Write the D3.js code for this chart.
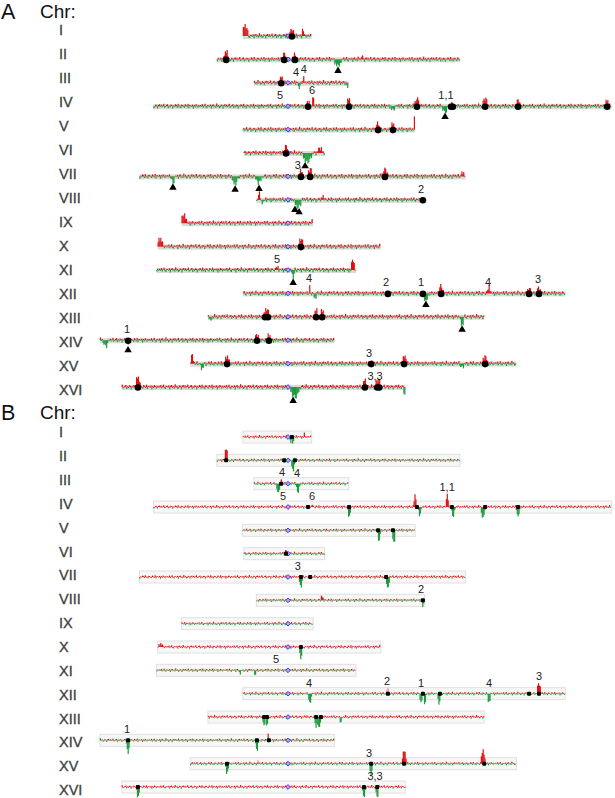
<!DOCTYPE html>
<html><head><meta charset="utf-8">
<script src="https://cdn.jsdelivr.net/npm/d3@7"></script>
<style>body{margin:0;background:#fff;} svg{display:block;font-family:"Liberation Sans",Arial,Helvetica,sans-serif;} text{-webkit-font-smoothing:antialiased;}</style>
</head><body><svg id="c" width="615" height="798"></svg>
<script>
// ---------- data ----------
const chrNames = ["I","II","III","IV","V","VI","VII","VIII","IX","X","XI","XII","XIII","XIV","XV","XVI"];
const chrLengths = [230, 813, 317, 1532, 577, 270, 1091, 563, 440, 746, 667, 1078, 924, 784, 1091, 948]; // kb
const cenPositions = [151, 238, 114, 450, 152, 148, 497, 106, 356, 436, 440, 151, 268, 629, 327, 556]; // kb

// small hand-read background texture of the ratio track (log ratio units)
const baselineTexture = [0.3,-0.2,0.5,-0.4,0.2,0.6,-0.3,-0.5,0.3,0.2,-0.2,0.4,-0.6,0.3,0.5,-0.3,0.2,-0.4,0.7,-0.2,0.3,-0.5,-0.3,0.4,0.2,-0.6,0.3,0.5,-0.2,0.4,-0.3,0.2,0.6,-0.4,-0.2,0.3,0.5,-0.5,0.2,-0.3,0.4,0.3,-0.6,0.2,-0.2,0.5,0.3,-0.4,0.6,-0.3,0.2,-0.5,0.4,0.3,-0.2,-0.4,0.5,0.2,-0.3,0.6,-0.5,0.3,0.2,-0.2,0.4,-0.6,0.3,-0.3,0.5,0.2,-0.4,0.3,-0.2];

// peaks: [chromosome index, position kb, log ratio, half width kb]
const peaksA = [
 [0,7,2.5,12],[0,164,1.8,8],[0,201,2.0,3],
 [1,31,2.0,9],[1,225,1.5,7],[1,261,1.5,7],[1,405,-1.6,14],[1,485,1.0,4],
 [2,91,1.5,7],[2,151,-2.0,3],[2,167,1.5,3],[2,315,-2.0,5],
 [3,517,1.2,6],[3,534,2.0,5],[3,654,1.8,8],[3,801,-1.0,8],[3,881,2.0,9],[3,975,-1.5,10],[3,998,0.8,5],[3,1109,2.0,9],[3,1219,1.5,8],[3,1517,1.5,7],
 [4,453,1.5,8],[4,503,1.5,8],[4,575,3.2,2],
 [5,141,1.8,8],[5,212,-2.3,18],[5,255,1.0,12],
 [6,112,-1.5,8],[6,320,-2.0,12],[6,400,-2.0,12],[6,403,1.3,3],[6,540,1.5,7],[6,571,1.8,9],[6,821,1.8,11],[6,1082,1.0,7],
 [7,9,2.0,4],[7,22,-1.0,5],[7,139,-1.8,14],[7,223,1.0,5],[7,561,-1.0,3],
 [8,8,2.0,11],[8,437,1.5,3],
 [9,8,2.0,11],[9,479,1.8,9],
 [10,403,0.8,5],[10,457,-1.8,6],[10,657,2.5,7],
 [11,224,1.5,3],[11,241,-1.2,6],[11,612,-2.0,8],[11,663,1.8,9],[11,823,1.5,7],[11,957,1.2,7],[11,990,1.5,7],
 [12,10,-1.5,4],[12,196,1.8,11],[12,362,1.8,7],[12,382,1.8,7],[12,850,-2.3,7],
 [13,20,-1.5,10],[13,94,-0.8,5],[13,525,1.3,7],[13,565,1.3,7],
 [14,6,2.0,6],[14,39,-1.2,8],[14,123,1.8,9],[14,605,0.8,4],[14,715,1.8,9],[14,909,-1.0,8],[14,986,1.8,9],
 [15,54,2.5,9],[15,579,-2.5,18],[15,813,1.8,8],[15,857,1.8,11],[15,945,-2.0,3]
];
const peaksB = [
 [0,160,-1.8,4],[0,168,-1.6,4],[0,205,0.8,2],
 [1,31,3.0,6],[1,225,-1.0,3],[1,255,-2.8,6],
 [2,91,1.3,2],[2,81,-2.5,6],[2,147,-2.3,6],
 [3,530,0.8,3],[3,654,-2.5,6],[3,875,3.0,5],[3,891,-2.0,6],[3,982,3.0,5],[3,1002,-2.5,6],[3,1102,-2.8,7],[3,1219,-2.5,6],
 [4,456,-2.5,6],[4,506,-3.0,6],
 [5,141,1.5,2],
 [6,540,-2.5,6],[6,831,-3.0,6],
 [7,220,1.0,5],[7,557,-1.5,4],
 [9,10,0.8,8],[9,479,-2.8,6],
 [10,280,-0.8,5],[10,330,-1.0,5],
 [11,224,-2.5,6],[11,596,-2.5,5],[11,609,-2.5,5],[11,656,-2.5,6],[11,823,-2.3,6],[11,990,2.5,8],
 [12,188,-2.3,5],[12,198,-2.0,5],[12,362,-2.5,6],[12,372,-2.8,6],[12,445,-1.5,4],
 [13,94,-3.2,6],[13,525,-2.5,6],[13,562,1.3,3],
 [14,123,-2.3,6],[14,605,-2.5,6],[14,715,3.2,8],[14,979,3.2,8],
 [15,54,-2.5,6],[15,810,-2.5,6],[15,854,-2.5,6]
];
const palePeaksB = [[11,485,1.5,6],[14,227,1.0,2]];

const circlesA = [[0,164],[1,31],[1,225],[1,261],[2,91],[3,517],[3,654],[3,881],[3,995],[3,1001],[3,1109],[3,1219],[3,1517],[4,453],[4,503],[5,141],[6,540],[6,571],[6,821],[7,557],[9,479],[11,485],[11,602],[11,663],[11,957],[11,990],[12,191],[12,201],[12,362],[12,382],[13,94],[13,525],[13,565],[14,123],[14,605],[14,715],[14,986],[15,54],[15,813],[15,854],[15,861]];
const trianglesA = [[1,405],[3,975],[5,205],[6,112],[6,320],[6,400],[7,129],[7,143],[10,457],[11,612],[12,850],[13,94],[15,573]];
const labelsA = [[2,141,"4"],[2,167,"4"],[3,423,"5"],[3,530,"6"],[3,978,"1,1"],[6,530,"3"],[7,551,"2"],[10,403,"5"],[11,221,"4"],[11,479,"2"],[11,596,"1"],[11,820,"4"],[11,987,"3"],[13,91,"1"],[14,598,"3"],[15,847,"3,3"]];

const squaresB = [[0,164],[1,31],[1,225],[1,261],[2,91],[3,517],[3,654],[3,881],[3,998],[3,1109],[3,1219],[4,453],[4,503],[5,141],[6,540],[6,571],[6,825],[7,557],[9,479],[11,485],[11,602],[11,659],[11,957],[11,990],[12,188],[12,198],[12,362],[12,378],[13,94],[13,525],[13,565],[14,123],[14,605],[14,715],[14,983],[15,54],[15,810],[15,854]];
const labelsB = [[2,94,"4"],[2,144,"4"],[3,433,"5"],[3,530,"6"],[3,982,"1,1"],[6,530,"3"],[7,551,"2"],[10,400,"5"],[11,221,"4"],[11,482,"2"],[11,596,"1"],[11,823,"4"],[11,990,"3"],[13,91,"1"],[14,598,"3"],[15,847,"3,3"]];

// ---------- drawing ----------
const svg = d3.select("#c");
const RED = "#e01010", GREEN = "#1e9a3c";
const x = d3.scaleLinear().domain([-1000, 1100]).range([288 - 299, 288 + 329]); // kb from centromere
const yv = d3.scaleLinear().domain([-4, 4]).range([16, -16]); // ratio -> px offset
const BIN = 3;
const kern = (d, hw) => d < hw ? 1 - (d / hw) * (d / hw) : 0;

function binned(ci, peaks, pale, texAmp) {
  const n = Math.floor(chrLengths[ci] / BIN);
  const out = [];
  for (let i = 0; i < n; i++) {
    const pos = i * BIN + BIN / 2;
    let v = baselineTexture[(i + ci * 7) % baselineTexture.length] * texAmp;
    let pv = 0;
    peaks.forEach(p => { if (p[0] === ci) v += p[2] * kern(Math.abs(pos - p[1]), p[3]); });
    pale.forEach(p => { if (p[0] === ci) pv += p[2] * kern(Math.abs(pos - p[1]), p[3]); });
    out.push({ pos, v, pv });
  }
  return out;
}

function panel(cfg) {
  const g = svg.append("g");
  const row = d3.scaleLinear().domain([0, 15]).range(cfg.rows);
  const lab = d3.scaleLinear().domain([0, 15]).range(cfg.labs);
  g.append("text").attr("x", 1).attr("y", cfg.letterY + 1.5).attr("font-size", 21.5).attr("fill", "#111").text(cfg.letter);
  g.append("text").attr("x", 40).attr("y", cfg.letterY).attr("font-size", 19).attr("fill", "#111").text("Chr:");
  chrNames.forEach((nm, ci) => {
    const y0 = row(ci), cen = cenPositions[ci];
    const gx = v => x(v - cen);
    g.append("text").attr("x", 59).attr("y", lab(ci)).attr("dy", "0.36em").attr("font-size", 14.5)
      .attr("fill", "#404040").attr("stroke", "#404040").attr("stroke-width", 0.3).text(nm);
    g.append("rect").attr("x", gx(0)).attr("width", gx(chrLengths[ci]) - gx(0))
      .attr("y", y0 + cfg.band[0]).attr("height", cfg.band[1] - cfg.band[0]).attr("fill", cfg.bandFill).attr("stroke", cfg.bandStroke).attr("stroke-width", cfg.bandStroke === "none" ? 0 : 1);
    const bins = binned(ci, cfg.peaks, cfg.pale, cfg.texAmp);
    const bg = g.append("g");
    bg.selectAll("rect.p").data(bins.filter(b => b.pv > 0)).join("rect")
      .attr("x", b => gx(b.pos) - 0.6).attr("width", 1.2)
      .attr("y", b => y0 + yv(b.pv)).attr("height", b => yv(0) - yv(b.pv)).attr("fill", "#f2a6a6");
    bg.selectAll("rect.b").data(bins).join("rect")
      .attr("x", b => gx(b.pos) - 0.6).attr("width", 1.2)
      .attr("y", b => y0 + Math.min(yv(b.v), yv(0)))
      .attr("height", b => Math.max(0.6, Math.abs(yv(b.v) - yv(0))))
      .attr("fill", b => b.v >= 0 ? RED : GREEN);
    // centromere
    g.append("path").attr("d", d3.symbol(d3.symbolSquare, 11)()).attr("transform", `translate(${gx(cen)},${y0}) rotate(45)`)
      .attr("fill", "#c99be0").attr("stroke", "#2b3cf0").attr("stroke-width", 0.9);
    const near = (pos, r) => bins.filter(b => Math.abs(b.pos - pos) <= r);
    if (cfg.circles) cfg.circles.filter(c => c[0] === ci).forEach(c => {
      g.append("circle").attr("cx", gx(c[1])).attr("cy", y0 + 0.5).attr("r", 3.3).attr("fill", "#000");
    });
    if (cfg.squares) cfg.squares.filter(c => c[0] === ci).forEach(c => {
      g.append("rect").attr("x", gx(c[1]) - 2).attr("y", y0 - 2).attr("width", 4).attr("height", 4).attr("rx", 1).attr("fill", "#000");
    });
    if (cfg.triangles) cfg.triangles.filter(c => c[0] === ci).forEach(c => {
      const depth = d3.max(near(c[1], 6), b => yv(b.v) - yv(0)) || 0;
      const cy = y0 + Math.max(6, depth) + 4;
      g.append("path").attr("d", d3.symbol(d3.symbolTriangle, 24)()).attr("transform", `translate(${gx(c[1])},${cy})`).attr("fill", "#000");
    });
    cfg.labels.filter(c => c[0] === ci).forEach(c => {
      const h = d3.max(near(c[1], 3), b => Math.max(yv(0) - yv(b.v), yv(0) - yv(b.pv))) || 0;
      g.append("text").attr("x", gx(c[1])).attr("y", y0 - Math.max(7, h + 3)).attr("text-anchor", "middle")
        .attr("font-size", 11).attr("fill", "#222").text(c[2]);
    });
  });
}

panel({ letter: "A", letterY: 17.5, rows: [36, 387], labs: [30, 389.5], band: [-2, 3], bandFill: "#dadada", bandStroke: "none",
  peaks: peaksA, pale: [], texAmp: 1.0, circles: circlesA, triangles: trianglesA, labels: labelsA });
panel({ letter: "B", letterY: 418.5, rows: [437, 787], labs: [432, 790], band: [-6, 6], bandFill: "#f7f7f7", bandStroke: "#e0e0e0",
  peaks: peaksB, pale: palePeaksB, texAmp: 0.7, squares: squaresB, labels: labelsB });
</script></body></html>
